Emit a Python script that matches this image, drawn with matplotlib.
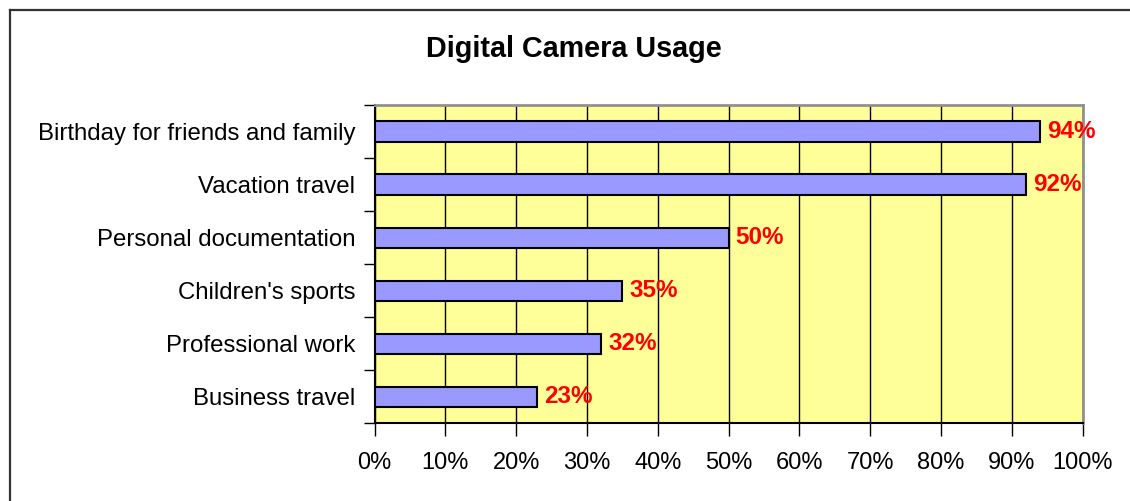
import matplotlib
matplotlib.use("Agg")
import matplotlib.pyplot as plt
from matplotlib.lines import Line2D
import numpy as np

plt.rcParams['font.family'] = ['Liberation Sans', 'DejaVu Sans']

# data, top to bottom as in the chart
categories = ["Birthday for friends and family", "Vacation travel",
              "Personal documentation", "Children's sports",
              "Professional work", "Business travel"]
values = [94, 92, 50, 35, 32, 23]
xticks = [0, 10, 20, 30, 40, 50, 60, 70, 80, 90, 100]
xticklabels = [str(t) + "%" for t in xticks]

fig = plt.figure(figsize=(11.30, 5.01), dpi=100)
ax = fig.add_axes([374.5 / 1130, 1 - 423.3 / 501, 708.2 / 1130, 318.3 / 501])
ax.set_facecolor("#FFFF99")

pos = np.arange(len(categories))
ax.barh(pos, values, height=0.38, color="#9999FF", edgecolor="black",
        linewidth=1.5, zorder=3)
for p, v in zip(pos, values):
    ax.text(v + 1.0, p, str(v) + "%", color="#FF0000", fontsize=17.5,
            fontweight="bold", va="center", ha="left", zorder=4)

ax.set_xlim(0, 100)
ax.set_ylim(len(categories) - 0.5, -0.5)

ax.set_xticks(xticks)
ax.set_xticklabels(xticklabels, fontsize=17)
ax.tick_params(axis="x", direction="out", length=9, width=1, color="black", pad=12)

ax.set_yticks(pos)
ax.set_yticklabels(categories, fontsize=17.3)
ax.set_yticks(np.arange(-0.5, len(categories)), minor=True)
ax.tick_params(axis="y", which="major", length=0, pad=14)
ax.tick_params(axis="y", which="minor", direction="out", length=8, width=1, color="black")

ax.grid(axis="x", color="black", linewidth=1, zorder=1)
ax.set_axisbelow(True)

for side in ("left", "bottom"):
    ax.spines[side].set_color("black")
    ax.spines[side].set_linewidth(1.5)
for side in ("top", "right"):
    ax.spines[side].set_color("#909090")
    ax.spines[side].set_linewidth(2)

fig.text(574 / 1130, 1 - 49 / 501, "Digital Camera Usage", fontsize=20.7,
         fontweight="bold", ha="center", va="center")

# outer chart frame (only top and left edges are visible)
fig.add_artist(Line2D([9.5 / 1130, 9.5 / 1130], [0, 1 - 10 / 501],
                      transform=fig.transFigure, color="#333333", linewidth=1.6))
fig.add_artist(Line2D([9.5 / 1130, 1], [1 - 10 / 501, 1 - 10 / 501],
                      transform=fig.transFigure, color="#333333", linewidth=1.6))

fig.savefig("out.png", dpi=100)
